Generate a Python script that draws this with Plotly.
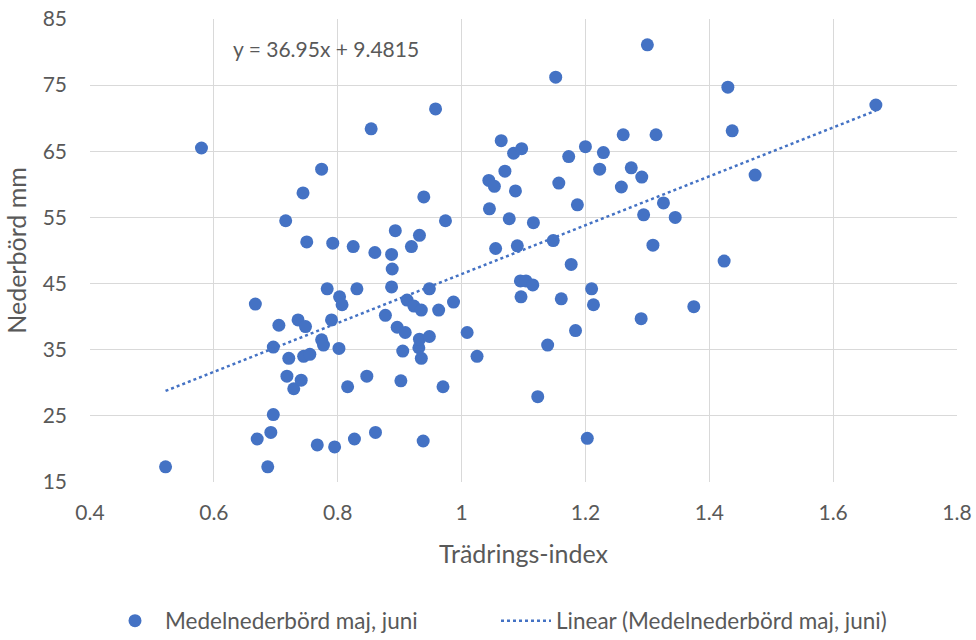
import plotly.graph_objects as go

# Tree-ring index vs. mean May–June precipitation
tradrings_index = [
    0.522, 0.580, 0.667, 0.670, 0.687, 0.692, 0.696, 0.696, 0.705, 0.716,
    0.718, 0.721, 0.729, 0.736, 0.741, 0.744, 0.745, 0.748, 0.750, 0.755,
    0.767, 0.774, 0.774, 0.777, 0.783, 0.790, 0.792, 0.795, 0.802, 0.803,
    0.807, 0.816, 0.825, 0.827, 0.831, 0.847, 0.854, 0.860, 0.861, 0.877,
    0.887, 0.888, 0.887, 0.893, 0.896, 0.902, 0.905, 0.909, 0.912, 0.919,
    0.923, 0.931, 0.932, 0.932, 0.935, 0.935, 0.938, 0.939, 0.948, 0.948,
    0.958, 0.963, 0.970, 0.974, 0.987, 1.009, 1.025, 1.044, 1.045, 1.053,
    1.055, 1.064, 1.070, 1.077, 1.084, 1.087, 1.090, 1.095, 1.096, 1.097,
    1.104, 1.115, 1.116, 1.123, 1.139, 1.148, 1.152, 1.157, 1.161, 1.173,
    1.177, 1.184, 1.187, 1.200, 1.203, 1.210, 1.213, 1.223, 1.229, 1.258,
    1.261, 1.274, 1.290, 1.291, 1.294, 1.300, 1.309, 1.314, 1.326, 1.345,
    1.375, 1.424, 1.430, 1.437, 1.474, 1.669,
]
nederbord_mm = [
    17.3, 65.5, 41.9, 21.5, 17.3, 22.5, 25.2, 35.4, 38.7, 54.5,
    31.0, 33.7, 29.1, 39.5, 30.4, 58.7, 34.0, 38.5, 51.3, 34.3,
    20.6, 62.3, 36.5, 35.7, 44.2, 39.5, 51.1, 20.3, 35.2, 43.0,
    41.8, 29.4, 50.6, 21.5, 44.2, 31.0, 68.4, 49.7, 22.5, 40.2,
    49.4, 47.2, 44.5, 53.0, 38.4, 30.3, 34.8, 37.6, 42.5, 50.6,
    41.6, 35.3, 36.6, 52.3, 41.0, 33.7, 21.2, 58.1, 44.2, 37.0,
    71.4, 41.0, 29.4, 54.5, 42.2, 37.6, 34.0, 60.6, 56.3, 59.7,
    50.3, 66.6, 62.0, 54.8, 64.7, 59.0, 50.7, 45.4, 43.0, 65.4,
    45.4, 44.8, 54.2, 27.9, 35.7, 51.5, 76.2, 60.2, 42.7, 64.2,
    47.9, 37.9, 56.9, 65.7, 21.6, 44.2, 41.8, 62.3, 64.8, 59.6,
    67.5, 62.5, 39.7, 61.1, 55.4, 81.1, 50.8, 67.5, 57.2, 55.0,
    41.5, 48.4, 74.7, 68.1, 61.4, 72.0,
]

# Linear trendline coefficients
slope = 36.95
intercept = 9.4815

x_ticks = [0.4, 0.6, 0.8, 1.0, 1.2, 1.4, 1.6, 1.8]
x_tick_text = ["0.4", "0.6", "0.8", "1", "1.2", "1.4", "1.6", "1.8"]
y_ticks = [15, 25, 35, 45, 55, 65, 75, 85]

series_name = "Medelnederbörd maj, juni"
blue = "#4472C4"
text_grey = "#595959"
font_family = "Lato, 'Open Sans', sans-serif"

x_min = min(tradrings_index)
x_max = max(tradrings_index)
trend_x = [x_min, x_max]
trend_y = [slope * v + intercept for v in trend_x]

fig = go.Figure()
fig.add_trace(go.Scatter(
    x=tradrings_index, y=nederbord_mm, mode="markers", name=series_name,
    marker=dict(color=blue, size=13, line=dict(width=0)),
))
fig.add_trace(go.Scatter(
    x=trend_x, y=trend_y, mode="lines", name=f"Linear ({series_name})",
    line=dict(color=blue, width=2.5, dash="dot"),
))

fig.add_annotation(
    x=0.781, y=80.6, xref="x", yref="y",
    text=f"y = {slope}x + {intercept}", showarrow=False,
    font=dict(family=font_family, size=21, color=text_grey),
)

fig.update_layout(
    width=976, height=640,
    margin=dict(l=90, r=19, t=19, b=158, autoexpand=False),
    paper_bgcolor="white", plot_bgcolor="white",
    font=dict(family=font_family, color=text_grey),
    showlegend=True,
    legend=dict(
        orientation="h", xref="container", yref="container",
        x=105 / 976, xanchor="left", y=(640 - 621) / 640, yanchor="middle",
        font=dict(size=22.5, color=text_grey),
        itemwidth=50, entrywidth=326, entrywidthmode="pixels",
    ),
    xaxis=dict(
        range=[0.4, 1.8], tickvals=x_ticks, ticktext=x_tick_text,
        showgrid=True, gridcolor="#D9D9D9", gridwidth=1, zeroline=False,
        showline=False, ticks="", tickfont=dict(size=21, color=text_grey),
        ticklabelstandoff=16, automargin=False,
        title=dict(text="Trädrings-index", font=dict(size=25, color=text_grey), standoff=22),
    ),
    yaxis=dict(
        range=[15, 85], tickvals=y_ticks,
        showgrid=True, gridcolor="#D9D9D9", gridwidth=1, zeroline=False,
        showline=False, ticks="", tickfont=dict(size=21, color=text_grey),
        ticklabelstandoff=22, automargin=False,
        title=dict(text="Nederbörd mm", font=dict(size=25, color=text_grey), standoff=8),
    ),
)

fig.write_html("out.html")
